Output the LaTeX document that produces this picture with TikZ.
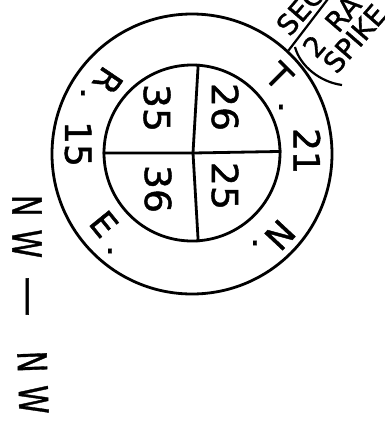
\documentclass[tikz,border=0pt]{standalone}
\usepackage{fontspec}
\setmainfont{DejaVu Sans}
\newfontfamily\lettering[FakeBold=1.2]{DejaVu Sans}
\begin{document}
\begin{tikzpicture}[x=1pt,y=-1pt,
  ln/.style={line width=2.8pt},
  thin/.style={line width=2.2pt},
  num/.style={font=\lettering\fontsize{36}{36}\selectfont, inner sep=0pt},
  lt/.style={font=\lettering\fontsize{34}{34}\selectfont, inner sep=0pt},
  dotm/.style={font=\lettering\fontsize{34}{34}\selectfont, inner sep=0pt},
  sm/.style={font=\lettering\fontsize{28}{28}\selectfont, inner sep=0pt, rotate=49},
  big/.style={font=\lettering\fontsize{40}{40}\selectfont, inner sep=0pt}]
\useasboundingbox (0,0) rectangle (384,440);
\fill[white] (0,0) rectangle (384,440);
% circles
\node[circle, draw, ln, minimum size=280pt, inner sep=0pt] (outer) at (192,154) {};
\node[circle, draw, ln, minimum size=176pt, inner sep=0pt] (inner) at (192,153) {};
\coordinate (cross) at (193,153);
\draw[ln] (inner.86) -- (cross) -- (inner.-86);
\draw[ln] (inner.180) -- (cross) -- (inner.1);
% quadrant numbers
\node[num, rotate=-90, xscale=1.05] (q26) at (225,107) {26};
\node[num, rotate=-90, xscale=1.05] (q35) at (157,108) {35};
\node[num, rotate=-90, xscale=1.05] (q36) at (158,189) {36};
\node[num, rotate=-90, xscale=1.05] (q25) at (225,186) {25};
% ring text
\node[lt, rotate=-45] (T) at (279,76) {T};
\node[dotm] (Td) at (281,107) {.};
\node[num, rotate=-90] (n21) at (307,151) {21};
\node[lt, rotate=-133] (N) at (280,235) {N};
\node[dotm] (Nd) at (255,243) {.};
\node[lt, rotate=-124] (R) at (108,81) {R};
\node[dotm] (Rd) at (83,93) {.};
\node[num, rotate=-90] (n15) at (78,144) {15};
\node[lt, rotate=-51] (E) at (104,224) {E};
\node[dotm] (Ed) at (110,251) {.};
% top right note
\coordinate (lend) at (331,-5);
\draw[thin] (outer.47) -- (lend);
\node[sm] (sec) at (300,10) {SEC};
\node[sm] (rail) at (331.7,25.9) {2\hspace{16pt}RA};
\node[sm] (spike) at (354.7,38.5) {SPIKE};
\coordinate (pa) at (295,47);
\coordinate (pb) at (342,85);
\draw[thin] (pa) .. controls (300,66) and (320,82) .. (pb);
% NW -- NW
\node[big, rotate=-90, xscale=0.72] (nw1) at (27,226.5) {N\kern18pt W};
\node[big, rotate=-90] (dash) at (22.5,296.5) {—};
\node[big, rotate=-88, xscale=0.72] (nw2) at (33,382.5) {N\kern18pt W};
\end{tikzpicture}
\end{document}
